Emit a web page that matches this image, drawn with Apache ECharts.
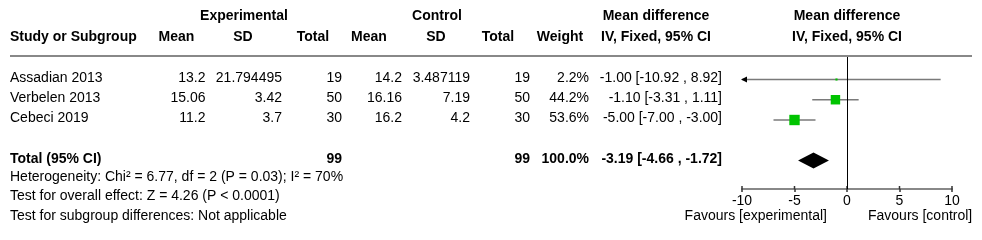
<!DOCTYPE html>
<html>
<head>
<meta charset="utf-8">
<script src="https://cdn.jsdelivr.net/npm/echarts@6/dist/echarts.min.js"></script>
<style>
html,body{margin:0;padding:0;background:#fff;}
#c{width:982px;height:240px;}
</style>
</head>
<body>
<div id="c"></div>
<script>
// ---- data ----
const studies = ['Assadian 2013', 'Verbelen 2013', 'Cebeci 2019'];
const expMean = ['13.2', '15.06', '11.2'];
const expSD = ['21.794495', '3.42', '3.7'];
const expTotal = [19, 50, 30];
const ctrlMean = ['14.2', '16.16', '16.2'];
const ctrlSD = ['3.487119', '7.19', '4.2'];
const ctrlTotal = [19, 50, 30];
const weights = [2.2, 44.2, 53.6];
const md = [-1.00, -1.10, -5.00];
const ciLow = [-10.92, -3.31, -7.00];
const ciHigh = [8.92, 1.11, -3.00];
const totalLabel = 'Total (95% CI)';
const totalExp = 99;
const totalCtrl = 99;
const totalWeight = 100.0;
const totalMd = -3.19;
const totalLow = -4.66;
const totalHigh = -1.72;
const axisTicks = [-10, -5, 0, 5, 10];
const footerLines = [
  'Heterogeneity: Chi\u00b2 = 6.77, df = 2 (P = 0.03); I\u00b2 = 70%',
  'Test for overall effect: Z = 4.26 (P < 0.0001)',
  'Test for subgroup differences: Not applicable'
];
const favourLeft = 'Favours [experimental]';
const favourRight = 'Favours [control]';

// ---- layout ----
const FONT = '14px "Liberation Sans", Arial, sans-serif';
const BFONT = 'bold 14px "Liberation Sans", Arial, sans-serif';
const studyRows = [1, 2, 3];
const totalRow = 5;
const rowY0 = 59.0, rowH = 20.3; // text rows
function ty(r) { return rowY0 + r * rowH - 1.5; }

const g = [];
function txt(s, x, y, align, bold) {
  g.push({ type: 'text', silent: true, style: { text: String(s), x: x, y: y, fill: '#000', font: bold ? BFONT : FONT, textAlign: align, textVerticalAlign: 'middle', verticalAlign: 'middle' } });
}
// header
txt('Experimental', 244, 16, 'center', true);
txt('Control', 437, 16, 'center', true);
txt('Mean difference', 656, 16, 'center', true);
txt('Mean difference', 847, 16, 'center', true);
txt('Study or Subgroup', 10, 37, 'left', true);
txt('Mean', 176.5, 37, 'center', true);
txt('SD', 243, 37, 'center', true);
txt('Total', 313, 37, 'center', true);
txt('Mean', 369, 37, 'center', true);
txt('SD', 436, 37, 'center', true);
txt('Total', 498, 37, 'center', true);
txt('Weight', 560, 37, 'center', true);
txt('IV, Fixed, 95% CI', 656, 37, 'center', true);
txt('IV, Fixed, 95% CI', 847, 37, 'center', true);
g.push({ type: 'line', silent: true, shape: { x1: 10, y1: 56, x2: 972, y2: 56 }, style: { stroke: '#888', lineWidth: 2 } });

function ciText(m, l, h) { return m.toFixed(2) + ' [' + l.toFixed(2) + ' , ' + h.toFixed(2) + ']'; }
studies.forEach(function (s, i) {
  const y = ty(studyRows[i]);
  txt(s, 10, y, 'left');
  txt(expMean[i], 205.5, y, 'right');
  txt(expSD[i], 282, y, 'right');
  txt(expTotal[i], 342, y, 'right');
  txt(ctrlMean[i], 402, y, 'right');
  txt(ctrlSD[i], 470, y, 'right');
  txt(ctrlTotal[i], 530, y, 'right');
  txt(weights[i].toFixed(1) + '%', 589, y, 'right');
  txt(ciText(md[i], ciLow[i], ciHigh[i]), 722, y, 'right');
});
const yt = ty(totalRow);
txt(totalLabel, 10, yt, 'left', true);
txt(totalExp, 342, yt, 'right', true);
txt(totalCtrl, 530, yt, 'right', true);
txt(totalWeight.toFixed(1) + '%', 589, yt, 'right', true);
txt(ciText(totalMd, totalLow, totalHigh), 722, yt, 'right', true);
footerLines.forEach(function (s, i) { txt(s, 10, 177 + i * 19.6, 'left'); });
txt(favourLeft, 827, 216, 'right');
txt(favourRight, 868, 216, 'left');

const ciData = studies.map(function (s, i) { return [studyRows[i], md[i], ciLow[i], ciHigh[i], weights[i]]; });
const XMIN = axisTicks[0], XMAX = axisTicks[axisTicks.length - 1];
const YMIN = -0.111, PXROW = 20.25, GTOP = 57, GH = 132;
const YMAX = YMIN + GH / PXROW;

const chart = echarts.init(document.getElementById('c'), null, { renderer: 'canvas' });
chart.setOption({
  animation: false,
  backgroundColor: '#fff',
  grid: { left: 742, width: 210, top: GTOP, height: GH },
  xAxis: {
    type: 'value', min: XMIN, max: XMAX, interval: axisTicks[1] - axisTicks[0], position: 'bottom',
    axisLine: { show: true, onZero: false, lineStyle: { color: '#888', width: 2 } },
    axisTick: { show: true, length: 3, lineStyle: { color: '#333', width: 1.5 } },
    axisLabel: { color: '#000', fontSize: 14, fontFamily: '"Liberation Sans", Arial, sans-serif', margin: 5 },
    splitLine: { show: false }
  },
  yAxis: {
    type: 'value', min: YMIN, max: YMAX, inverse: true, show: false,
    axisLine: { onZero: false }
  },
  graphic: g,
  series: [{
    type: 'custom',
    data: ciData,
    encode: { x: [1, 2, 3], y: 0 },
    clip: false,
    renderItem: function (params, api) {
      const r = api.value(0), m = api.value(1), lo = api.value(2), hi = api.value(3), w = api.value(4);
      const p1 = api.coord([Math.max(lo, XMIN), r]);
      const p2 = api.coord([Math.min(hi, XMAX), r]);
      const pm = api.coord([m, r]);
      const children = [{
        type: 'line', shape: { x1: p1[0], y1: p1[1], x2: p2[0], y2: p2[1] },
        style: { stroke: '#7a7a7a', lineWidth: 1.7 }
      }];
      if (lo < XMIN) children.push({ type: 'polygon', shape: { points: [[p1[0] - 1, p1[1]], [p1[0] + 5, p1[1] - 3], [p1[0] + 5, p1[1] + 3]] }, style: { fill: '#000' } });
      if (hi > XMAX) children.push({ type: 'polygon', shape: { points: [[p2[0] + 1, p2[1]], [p2[0] - 5, p2[1] - 3], [p2[0] - 5, p2[1] + 3]] }, style: { fill: '#000' } });
      const s = Math.sqrt(w) * 1.42;
      children.push({ type: 'rect', shape: { x: pm[0] - s / 2, y: pm[1] - s / 2, width: s, height: s }, style: { fill: '#00c400' } });
      return { type: 'group', children: children };
    },
    markLine: {
      silent: true, symbol: 'none', label: { show: false },
      lineStyle: { color: '#000', type: 'solid', width: 1 },
      data: [{ xAxis: 0 }]
    },
    z: 3
  }, {
    type: 'custom',
    data: [[totalRow, totalMd, totalLow, totalHigh]],
    encode: { x: [1, 2, 3], y: 0 },
    renderItem: function (params, api) {
      const r = api.value(0);
      const a = api.coord([api.value(2), r]);
      const c = api.coord([api.value(1), r]);
      const b = api.coord([api.value(3), r]);
      const h = 8;
      return { type: 'polygon', shape: { points: [a, [c[0], c[1] - h], b, [c[0], c[1] + h]] }, style: { fill: '#000' } };
    },
    z: 4
  }, {
    // upper half of the crossing tick marks on the axis baseline
    type: 'custom',
    silent: true,
    data: axisTicks.map(function (t) { return [t, YMAX]; }),
    encode: { x: 0, y: 1 },
    clip: false,
    renderItem: function (params, api) {
      const p = api.coord([api.value(0), api.value(1)]);
      return { type: 'line', shape: { x1: p[0], y1: p[1], x2: p[0], y2: p[1] - 3 }, style: { stroke: '#333', lineWidth: 1.5 } };
    },
    z: 2
  }]
});
</script>
</body>
</html>
